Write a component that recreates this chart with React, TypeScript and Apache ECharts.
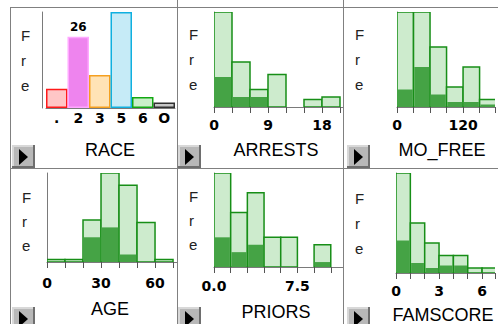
import React, { useEffect, useRef } from 'react';
import * as echarts from 'echarts';

// ---- data ----
const raceCategories = ['.', '2', '3', '5', '6', 'O'];
const raceCounts = [7, 26, 12, 35, 4, 2];
const raceFill = ['#ffc6c6', '#ee84ee', '#ffe3b6', '#c6ebf7', '#c9efc9', '#c6c6c6'];
const raceBorder = ['#ff1a1a', '#ffa8ff', '#f5a020', '#10b0e0', '#12a812', '#303030'];

const arrestsEdges = [0, 3, 6, 9, 12, 15, 18, 21];
const arrestsAll = [38, 18, 7, 13, 0, 3, 4];
const arrestsSub = [12, 4, 4, 0, 0, 0, 0];
const arrestsTicks = [0, 9, 18];

const moFreeEdges = [0, 30, 60, 90, 120, 150, 180];
const moFreeAll = [38, 38, 24, 8, 16, 3];
const moFreeSub = [7, 16, 5, 2, 2, 1];
const moFreeTicks = [0, 120];

const ageEdges = [0, 10, 20, 30, 40, 50, 60, 70];
const ageAll = [1, 1, 17, 36, 31, 16, 1];
const ageSub = [0, 0, 10, 14, 3, 0, 0];
const ageTicks = [0, 30, 60];

const priorsEdges = [0, 1.5, 3, 4.5, 6, 7.5, 9, 10.5];
const priorsAll = [38, 22, 30, 12, 12, 0, 9];
const priorsSub = [12, 6, 9, 0, 0, 0, 2];
const priorsTicks = [0, 7.5];

const famEdges = [0, 1, 2, 3, 4, 5, 6, 7];
const famAll = [40, 20, 12, 7, 7, 2, 2];
const famSub = [13, 4, 2, 3, 3, 0, 0];
const famTicks = [0, 3, 6];

const titles = ['RACE', 'ARRESTS', 'MO_FREE', 'AGE', 'PRIORS', 'FAMSCORE'];

// ---- layout / style ----
const LIGHT = '#cdebcd';
const DARK = '#45a345';
const EDGE = '#178e17';
const AXIS = '#7a7a7a';
const TICK = '#555555';
const LABEL_FONT = '"DejaVu Sans", sans-serif';
const TITLE_FONT = '"Liberation Sans", Arial, sans-serif';

type Hist = {
  edges: number[]; all: number[]; sub: number[]; ticks: number[];
  interval: number; xmax: number; ymax: number; decimals: number;
  grid: { left: number; top: number; width: number; height: number };
  yOffset: number; xOffset: number; margin: number;
};

const hists: Hist[] = [
  { edges: arrestsEdges, all: arrestsAll, sub: arrestsSub, ticks: arrestsTicks, interval: 3, xmax: 21.5, ymax: 38, decimals: 0,
    grid: { left: 214, top: 12, width: 129, height: 95 }, yOffset: 5, xOffset: 1, margin: 10 },
  { edges: moFreeEdges, all: moFreeAll, sub: moFreeSub, ticks: moFreeTicks, interval: 30, xmax: 178, ymax: 38, decimals: 0,
    grid: { left: 397, top: 12, width: 101, height: 95 }, yOffset: 22, xOffset: 1, margin: 10 },
  { edges: ageEdges, all: ageAll, sub: ageSub, ticks: ageTicks, interval: 10, xmax: 72.2, ymax: 36, decimals: 0,
    grid: { left: 47, top: 173, width: 130, height: 89 }, yOffset: 5, xOffset: 3, margin: 11 },
  { edges: priorsEdges, all: priorsAll, sub: priorsSub, ticks: priorsTicks, interval: 1.5, xmax: 11.6, ymax: 38, decimals: 1,
    grid: { left: 214, top: 173, width: 129, height: 94 }, yOffset: 5, xOffset: 1, margin: 11 },
  { edges: famEdges, all: famAll, sub: famSub, ticks: famTicks, interval: 1, xmax: 6.9, ymax: 40, decimals: 0,
    grid: { left: 396, top: 173, width: 102, height: 100 }, yOffset: 21, xOffset: 1, margin: 10 },
];

const titlePos = [
  [110, 150], [276, 150], [442, 150], [110, 308.5], [276, 311.5], [443, 315],
];
const frePos = [
  [21, 23, 25], [189, 22, 25], [355, 22, 25], [22, 185, 24], [189, 184, 24], [355, 186, 25],
];
const buttonPos = [[12, 145], [178, 145], [347, 145], [12, 307], [178, 307], [347, 307]];

function renderHist(fill: string, stroke: string | null, inset: number) {
  return (_params: any, api: any) => {
    const v = api.value(2);
    if (!v) return { type: 'group', children: [] };
    const a = api.coord([api.value(0), v]);
    const b = api.coord([api.value(1), 0]);
    return {
      type: 'rect',
      shape: { x: a[0] + inset, y: a[1], width: b[0] - a[0] - 2 * inset, height: b[1] - a[1] },
      style: stroke ? { fill, stroke, lineWidth: 1.5 } : { fill },
    };
  };
}

function buildOption() {
  const grids: any[] = [];
  const xAxes: any[] = [];
  const yAxes: any[] = [];
  const series: any[] = [];

  // RACE panel (categorical)
  grids.push({ left: 46, top: 12, width: 129, height: 96 });
  xAxes.push({
    type: 'category', gridIndex: 0, data: raceCategories, offset: 1,
    axisLine: { lineStyle: { color: AXIS } },
    axisTick: { alignWithLabel: true, length: 6, lineStyle: { color: TICK } },
    axisLabel: { margin: 2, color: '#000', fontFamily: LABEL_FONT, fontWeight: 'bold', fontSize: 14, interval: 0 },
  });
  yAxes.push({
    type: 'value', gridIndex: 0, min: 0, max: 35, offset: 4,
    axisLine: { show: true, lineStyle: { color: AXIS } },
    axisTick: { show: false }, axisLabel: { show: false }, splitLine: { show: false },
  });
  series.push({
    type: 'bar', xAxisIndex: 0, yAxisIndex: 0, barCategoryGap: '0%',
    data: raceCounts.map((v, i) => ({
      value: v,
      itemStyle: { color: raceFill[i], borderColor: raceBorder[i], borderWidth: 1.5 },
      label: i === 1
        ? { show: true, position: 'top', distance: 4, color: '#000', fontFamily: LABEL_FONT, fontWeight: 'bold', fontSize: 12 }
        : { show: false },
    })),
  });

  hists.forEach((h, k) => {
    const gi = k + 1;
    grids.push({ ...h.grid });
    xAxes.push({
      type: 'value', gridIndex: gi, min: 0, max: h.xmax, interval: h.interval, offset: h.xOffset,
      axisLine: { lineStyle: { color: AXIS } },
      axisTick: { length: 6, lineStyle: { color: TICK } },
      splitLine: { show: false },
      axisLabel: {
        margin: h.margin, color: '#000', fontFamily: LABEL_FONT, fontWeight: 'bold', fontSize: 14,
        showMinLabel: true, showMaxLabel: true,
        formatter: (v: number) => (h.ticks.some((t) => Math.abs(t - v) < 1e-6) ? v.toFixed(h.decimals) : ''),
      },
    });
    yAxes.push({
      type: 'value', gridIndex: gi, min: 0, max: h.ymax, offset: h.yOffset,
      axisLine: { show: true, lineStyle: { color: AXIS } },
      axisTick: { show: false }, axisLabel: { show: false }, splitLine: { show: false },
    });
    const allData = h.all.map((v, i) => [h.edges[i], h.edges[i + 1], v]);
    const subData = h.sub.map((v, i) => [h.edges[i], h.edges[i + 1], v]);
    series.push({
      type: 'custom', xAxisIndex: gi, yAxisIndex: gi, clip: true,
      renderItem: renderHist(LIGHT, EDGE, 0), encode: { x: [0, 1], y: 2 }, data: allData,
    });
    series.push({
      type: 'custom', xAxisIndex: gi, yAxisIndex: gi, clip: true,
      renderItem: renderHist(DARK, null, 0.75), encode: { x: [0, 1], y: 2 }, data: subData,
    });
  });

  const graphic: any[] = [];
  const line = (x1: number, y1: number, x2: number, y2: number) => ({
    type: 'line', silent: true, z: 100,
    shape: { x1, y1, x2, y2 }, style: { stroke: '#808080', lineWidth: 1 },
  });
  graphic.push(line(10, 7.5, 498, 7.5));
  graphic.push(line(10.5, 7, 10.5, 324));
  graphic.push(line(177.5, 0, 177.5, 324));
  graphic.push(line(343.5, 0, 343.5, 324));
  graphic.push(line(10, 168.5, 498, 168.5));

  titles.forEach((t, i) => {
    graphic.push({
      type: 'text', z: 100, silent: true,
      style: { text: t, x: titlePos[i][0], y: titlePos[i][1], fill: '#000', fontSize: 18, fontFamily: TITLE_FONT, align: 'center', verticalAlign: 'middle' },
    });
  });
  frePos.forEach((p) => {
    graphic.push({
      type: 'text', z: 100, silent: true,
      style: { text: 'F\nr\ne', x: p[0], y: p[1], lineHeight: p[2], fill: '#222', fontSize: 15, fontFamily: TITLE_FONT, align: 'left', verticalAlign: 'top' },
    });
  });
  buttonPos.forEach(([bx, by]) => {
    graphic.push({
      type: 'group', z: 110, silent: true,
      children: [
        { type: 'rect', shape: { x: bx, y: by, width: 23, height: 23 }, style: { fill: '#6e6e6e' } },
        { type: 'rect', shape: { x: bx, y: by, width: 21, height: 21 }, style: { fill: '#d8d8d8' } },
        { type: 'rect', shape: { x: bx + 2, y: by + 2, width: 19, height: 19 }, style: { fill: '#b8b8b8' } },
        { type: 'polygon', shape: { points: [[bx + 7, by + 4], [bx + 16, by + 12], [bx + 7, by + 20]] }, style: { fill: '#000' } },
      ],
    });
  });

  return {
    animation: false,
    backgroundColor: '#ffffff',
    grid: grids,
    xAxis: xAxes,
    yAxis: yAxes,
    series,
    graphic,
  };
}

export default function App() {
  const ref = useRef<HTMLDivElement>(null);
  useEffect(() => {
    if (!ref.current) return;
    const chart = echarts.init(ref.current, null, { renderer: 'svg' });
    chart.setOption(buildOption() as any);
    return () => chart.dispose();
  }, []);
  return (
    <div
      ref={ref}
      style={{ position: 'fixed', left: 0, top: 0, width: 498, height: 324, background: '#fff' }}
    />
  );
}
